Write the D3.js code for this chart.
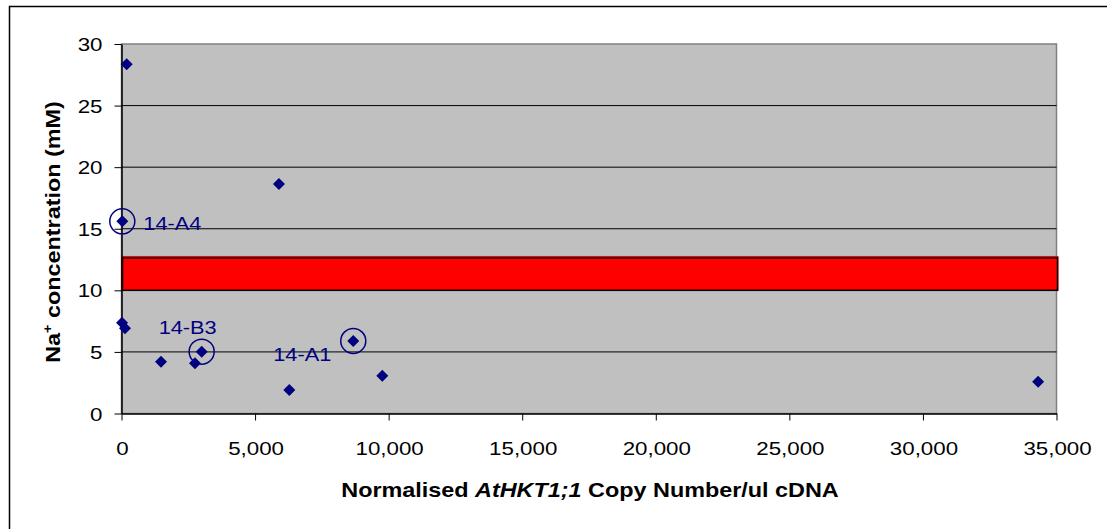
<!DOCTYPE html>
<html>
<head>
<meta charset="utf-8">
<script src="https://cdn.jsdelivr.net/npm/d3@7"></script>
<style>
  html, body { margin: 0; padding: 0; background: #fff; }
  svg { display: block; font-family: Arial, "Liberation Sans", sans-serif; }
</style>
</head>
<body>
<svg id="chart" width="1107" height="529"></svg>
<script>
// Transcript copy number vs. shoot Na+ concentration
const copyNumber = [195, 30, 20, 131, 1478, 2751, 3001, 5894, 6281, 8676, 9762, 34313];
const naConc     = [28.35, 15.6, 7.37, 6.92, 4.2, 4.08, 5.02, 18.63, 1.91, 5.89, 3.07, 2.58];
const lineNames  = ["", "14-A4", "", "", "", "", "14-B3", "", "", "14-A1", "", ""];

// Labelled-line callouts: text offset from the point (in px)
const calloutNames = ["14-A4", "14-B3", "14-A1"];
const calloutDx    = [21, -43, -80];
const calloutDy    = [8.5, -17.5, 20];

// Reference band for Na+ concentration (mM)
const bandRange = [10, 12.75];

const xTicks = [0, 5000, 10000, 15000, 20000, 25000, 30000, 35000];
const yTicks = [0, 5, 10, 15, 20, 25, 30];

const svg = d3.select("#chart");
const plot = { left: 121.5, right: 1056.5, top: 44, bottom: 413.5 };
const FONT = "Arial, 'Liberation Sans', sans-serif";
const WIDE = 1.2;   // horizontal stretch of the lettering

const x = d3.scaleLinear().domain([0, 35000]).range([plot.left, plot.right]);
const y = d3.scaleLinear().domain([0, 30]).range([plot.bottom, plot.top]);

// Chart frame
svg.append("rect")
  .attr("x", 9.5).attr("y", 6.5)
  .attr("width", 1107).attr("height", 529)
  .attr("fill", "#fff").attr("stroke", "#000").attr("stroke-width", 1.5);

// Plot area
svg.append("rect")
  .attr("x", plot.left).attr("y", plot.top)
  .attr("width", plot.right - plot.left).attr("height", plot.bottom - plot.top)
  .attr("fill", "#c0c0c0").attr("stroke", "#808080").attr("stroke-width", 1.5);

// Horizontal gridlines
svg.append("g").selectAll("line")
  .data(yTicks.filter(d => d > 0 && d < 30))
  .join("line")
  .attr("x1", plot.left).attr("x2", plot.right)
  .attr("y1", d => y(d)).attr("y2", d => y(d))
  .attr("stroke", "#000").attr("stroke-width", 1);

// Reference band
const bandG = svg.append("g");
bandG.append("rect")
  .attr("x", x(0)).attr("y", y(bandRange[1]))
  .attr("width", x(35000) - x(0) + 1.5)
  .attr("height", y(bandRange[0]) - y(bandRange[1]))
  .attr("fill", "#ff0000").attr("stroke", "#ff0000").attr("stroke-width", 1);
bandG.append("rect")
  .attr("x", x(0) + 1).attr("y", y(bandRange[1]) + 1.5)
  .attr("width", x(35000) - x(0))
  .attr("height", y(bandRange[0]) - y(bandRange[1]) - 1.5)
  .attr("fill", "#ff0000").attr("stroke", "#000").attr("stroke-width", 1.5);

// Axes
const xAxis = d3.axisBottom(x).tickValues(xTicks).tickSize(7).tickSizeOuter(0)
  .tickFormat(d3.format(","));
const yAxis = d3.axisLeft(y).tickValues(yTicks).tickSize(7).tickSizeOuter(0);

const gx = svg.append("g").attr("transform", `translate(0,${plot.bottom})`).call(xAxis);
gx.select(".domain").attr("stroke", "#000").attr("stroke-width", 1.5);
gx.selectAll(".tick line").attr("stroke", "#000");
gx.selectAll(".tick text").attr("font-size", "18.6px").attr("fill", "#000")
  .attr("font-family", FONT).attr("x", 0).attr("y", 0).attr("dy", "0")
  .attr("transform", `translate(0.5,41.5) scale(${WIDE},1)`);

const gy = svg.append("g").attr("transform", `translate(${plot.left},0)`).call(yAxis);
gy.select(".domain").attr("stroke", "#000").attr("stroke-width", 1.5);
gy.selectAll(".tick line").attr("stroke", "#000");
gy.selectAll(".tick text").attr("font-size", "18.6px").attr("fill", "#000")
  .attr("font-family", FONT).attr("x", 0).attr("dy", "0.35em")
  .attr("transform", `translate(-19,0) scale(${WIDE},1)`);

// Data points (diamonds)
const diamond = d3.symbol().type(d3.symbolSquare).size(72);
svg.append("g").selectAll("path")
  .data(copyNumber.map((c, i) => ({ c, n: naConc[i], name: lineNames[i] })))
  .join("path")
  .attr("d", diamond)
  .attr("transform", d => `translate(${x(d.c)},${y(d.n)}) rotate(45)`)
  .attr("fill", "#000080");

// Callouts: ring around the selected lines plus their names
const callouts = calloutNames.map((name, k) => {
  const i = lineNames.indexOf(name);
  return { name, c: copyNumber[i], n: naConc[i], dx: calloutDx[k], dy: calloutDy[k] };
});
const cg = svg.append("g");
cg.selectAll("circle").data(callouts).join("circle")
  .attr("cx", d => x(d.c)).attr("cy", d => y(d.n)).attr("r", 12.5)
  .attr("fill", "none").attr("stroke", "#000080").attr("stroke-width", 1.5);
cg.selectAll("text").data(callouts).join("text")
  .attr("transform", d => `translate(${x(d.c) + d.dx},${y(d.n) + d.dy}) scale(1.17,1)`)
  .attr("font-size", "18.6px").attr("fill", "#000080")
  .text(d => d.name);

// Axis titles
const xt = svg.append("text")
  .attr("transform", `translate(590,497) scale(${WIDE},1)`)
  .attr("text-anchor", "middle").attr("font-size", "19.5px").attr("font-weight", "bold");
xt.append("tspan").text("Normalised ");
xt.append("tspan").attr("font-style", "italic").text("AtHKT1;1");
xt.append("tspan").text(" Copy Number/ul cDNA");

const yt = svg.append("text")
  .attr("transform", `translate(60,232) rotate(-90) scale(${WIDE},1)`)
  .attr("text-anchor", "middle").attr("font-size", "19.5px").attr("font-weight", "bold");
yt.append("tspan").text("Na");
yt.append("tspan").attr("font-size", "12px").attr("dy", "-8").text("+");
yt.append("tspan").attr("dy", "8").text(" concentration (mM)");
</script>
</body>
</html>
